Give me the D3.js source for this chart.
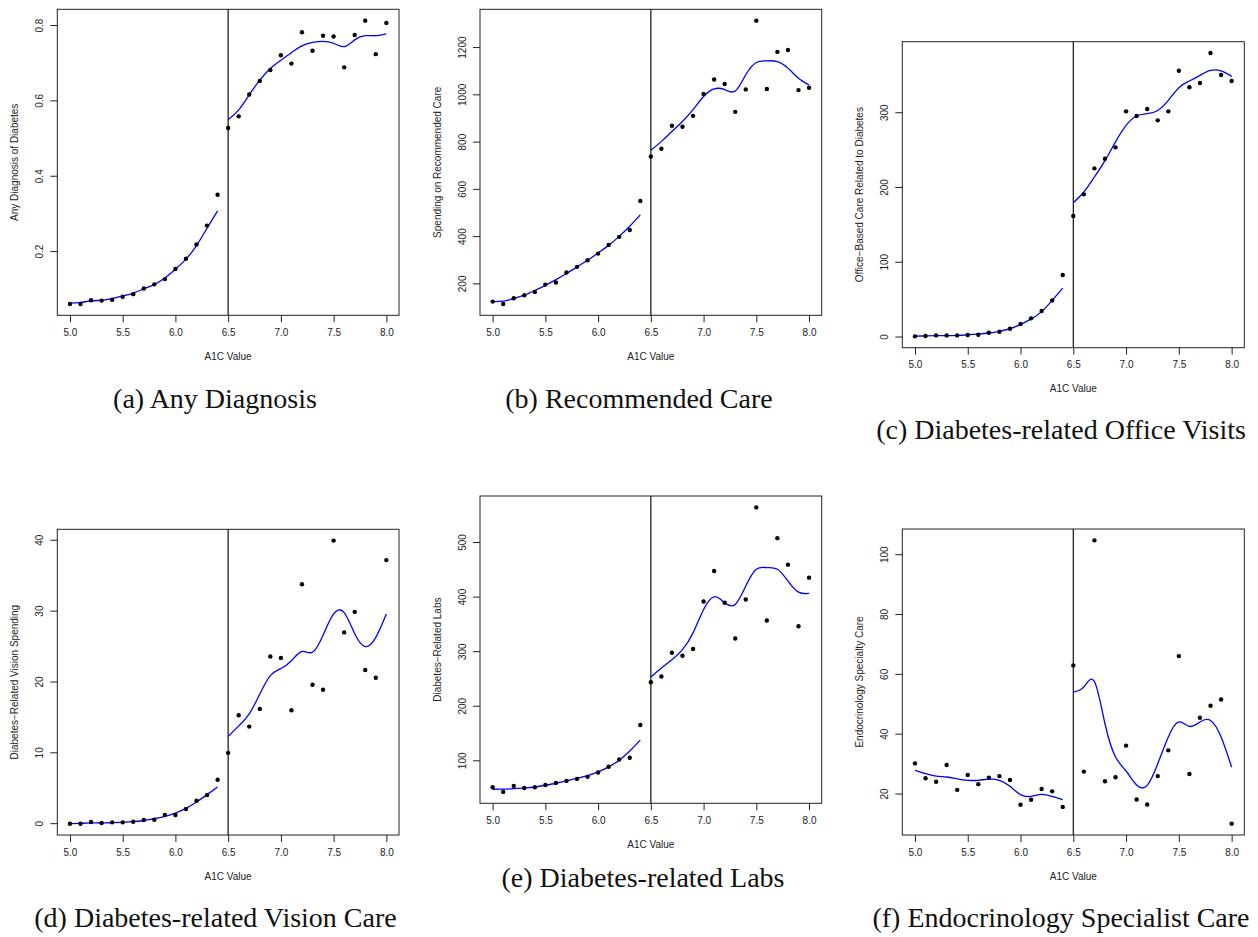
<!DOCTYPE html>
<html>
<head>
<meta charset="utf-8">
<script src="https://cdn.jsdelivr.net/npm/d3@7"></script>
<style>
  html, body { margin: 0; padding: 0; background: #fff; }
  svg { display: block; }
</style>
</head>
<body>
<svg id="chart" width="1258" height="937"></svg>
<script>
// ---------- data ----------
const a1c = [5.0,5.1,5.2,5.3,5.4,5.5,5.6,5.7,5.8,5.9,6.0,6.1,6.2,6.3,6.4,
             6.5,6.6,6.7,6.8,6.9,7.0,7.1,7.2,7.3,7.4,7.5,7.6,7.7,7.8,7.9,8.0];
const fitXLeft  = [5.0,5.1,5.2,5.3,5.4,5.5,5.6,5.7,5.8,5.9,6.0,6.1,6.2,6.3,6.4];
const fitXRight = [6.5,6.6,6.7,6.8,6.9,7.0,7.1,7.2,7.3,7.4,7.5,7.6,7.7,7.8,7.9,8.0];
const xTicks = [5.0,5.5,6.0,6.5,7.0,7.5,8.0];
const cutoff = 6.5;

// (a) Any Diagnosis
const anyDiagnosis = [0.061,0.061,0.071,0.070,0.072,0.080,0.087,0.102,0.113,0.127,0.154,0.181,0.219,0.269,0.351,
                      0.528,0.559,0.617,0.653,0.682,0.721,0.699,0.782,0.733,0.773,0.771,0.689,0.775,0.813,0.724,0.807];
const anyDiagnosisFitL = [0.063,0.065,0.069,0.071,0.075,0.082,0.090,0.101,0.113,0.130,0.153,0.180,0.216,0.262,0.308];
const anyDiagnosisFitR = [0.550,0.576,0.616,0.655,0.686,0.708,0.728,0.746,0.755,0.758,0.753,0.744,0.762,0.773,0.773,0.778];
const anyDiagnosisTicks = [0.2,0.4,0.6,0.8];

// (b) Recommended Care
const recCare = [125,115,139,152,166,197,206,248,272,300,328,365,399,428,551,
                 739,772,869,865,911,1004,1065,1046,928,1023,1314,1025,1182,1190,1020,1030];
const recCareFitL = [125,127,138,152,172,194,218,244,272,300,331,363,401,444,492];
const recCareFitR = [765,803,845,887,937,993,1025,1022,1016,1085,1137,1144,1141,1113,1070,1042];
const recCareTicks = [200,400,600,800,1000,1200];

// (c) Office visits
const office = [0.9,1.3,2.2,2.2,2.2,2.7,3.1,5.8,7.1,11.1,17.4,25,34.8,49,82.9,
                161.8,190.8,225.6,238.5,253.7,301.8,295.6,305,289.8,301.8,356.2,334,339.7,379.8,350.4,342.4];
const officeFitL = [1.3,1.5,1.8,1.9,2.2,3.0,4.0,5.4,7.6,11.1,17,24,34,49,65.5];
const officeFitR = [179.7,194,214,236,261,283,295.6,298.7,303,316.5,333.5,342.4,350,356.7,355.8,348.6];
const officeTicks = [0,100,200,300];

// (d) Vision care
const vision = [0,0,0.24,0.1,0.19,0.19,0.28,0.52,0.56,1.22,1.22,2.07,3.24,4.04,6.2,
                10.0,15.3,13.7,16.2,23.6,23.4,16.0,33.8,19.6,18.9,39.95,27.0,29.9,21.7,20.6,37.2];
const visionFitL = [0.0,0.05,0.1,0.1,0.14,0.19,0.28,0.45,0.7,1.03,1.5,2.16,3.06,4.1,5.17];
const visionFitR = [12.3,13.8,15.5,18.3,20.9,21.9,23.0,24.3,24.2,26.6,29.6,29.8,26.8,25.0,26.3,29.6];
const visionTicks = [0,10,20,30,40];

// (e) Labs
const labs = [51.5,43,54,50.3,51.5,55.8,59.5,63.2,66.9,70.6,78.5,89,102.5,105.5,165.6,
              244,254.6,298,292.6,305,392,447.9,389.6,324,395.7,564.4,357,508,459.5,346.6,435.6];
const labsFitL = [47.9,48.2,49,50.3,52,55.2,58.9,63.2,68,73,79.8,89,101.2,118,138];
const labsFitR = [253.4,270,285.3,303.7,334.4,377.3,400.6,389.6,386.5,420.2,450.9,454,450.9,429.4,409.2,406.7];
const labsTicks = [100,200,300,400,500];

// (f) Endocrinology
const endo = [30.25,25.3,24.1,29.7,21.4,26.4,23.3,25.5,26.0,24.7,16.4,18.1,21.7,20.9,15.7,
              63.0,27.5,104.8,24.3,25.6,36.2,18.2,16.5,26.0,34.6,66.1,26.7,45.5,49.5,51.6,10.1];
const endoFitL = [27.9,26.8,26.0,25.7,25.1,24.6,24.6,25.0,24.6,22.6,19.8,19.2,19.9,19.2,18.1];
const endoFitR = [54.1,55.8,57.6,43.5,32.4,27.7,23.0,22.9,30.1,39.1,44.1,42.6,44.1,44.6,39.1,29.0];
const endoTicks = [20,40,60,80,100];

// ---------- panels ----------
const panels = [
  {y: anyDiagnosis, fl: anyDiagnosisFitL, fr: anyDiagnosisFitR, ticks: anyDiagnosisTicks, fmt: d3.format(".1f"),
   ylab: "Any Diagnosis of Diabetes", cap: "(a) Any Diagnosis",
   box: [57.3, 399, 9.3, 315.3], capX: 215, capY: 408},
  {y: recCare, fl: recCareFitL, fr: recCareFitR, ticks: recCareTicks, fmt: d3.format("d"),
   ylab: "Spending on Recommended Care", cap: "(b) Recommended Care",
   box: [480, 821.7, 9.3, 315.3], capX: 639, capY: 408},
  {y: office, fl: officeFitL, fr: officeFitR, ticks: officeTicks, fmt: d3.format("d"),
   ylab: "Office\u2212Based Care Related to Diabetes", cap: "(c) Diabetes-related Office Visits",
   box: [902.3, 1244.3, 41.7, 347.7], capX: 1061, capY: 439},
  {y: vision, fl: visionFitL, fr: visionFitR, ticks: visionTicks, fmt: d3.format("d"),
   ylab: "Diabetes\u2212Related Vision Spending", cap: "(d) Diabetes-related Vision Care",
   box: [57.3, 399, 529.3, 835], capX: 215.5, capY: 927},
  {y: labs, fl: labsFitL, fr: labsFitR, ticks: labsTicks, fmt: d3.format("d"),
   ylab: "Diabetes\u2212Related Labs", cap: "(e) Diabetes-related Labs",
   box: [480, 821.7, 496, 803.3], capX: 643, capY: 887},
  {y: endo, fl: endoFitL, fr: endoFitR, ticks: endoTicks, fmt: d3.format("d"),
   ylab: "Endocrinology Specialty Care", cap: "(f) Endocrinology Specialist Care",
   box: [902.3, 1244.3, 529, 835], capX: 1061, capY: 927}
];

const svg = d3.select("#chart");
const sans = "'Liberation Sans', Arial, Helvetica, sans-serif";
const serif = "'Liberation Serif', 'Times New Roman', serif";

function rExtend(ext) {
  const r = ext[1] - ext[0];
  return [ext[0] - 0.04 * r, ext[1] + 0.04 * r];
}

panels.forEach(p => {
  const [L, R, T, B] = p.box;
  const x = d3.scaleLinear().domain(rExtend([5.0, 8.0])).range([L, R]);
  const y = d3.scaleLinear().domain(rExtend(d3.extent(p.y))).range([B, T]);
  const g = svg.append("g");

  // axes
  const xAxis = d3.axisBottom(x).tickValues(xTicks).tickFormat(d3.format(".1f")).tickSize(7).tickPadding(4);
  const gx = g.append("g").attr("transform", `translate(0,${B})`).call(xAxis);
  const yAxis = d3.axisLeft(y).tickValues(p.ticks).tickFormat(p.fmt).tickSize(7).tickPadding(0);
  const gy = g.append("g").attr("transform", `translate(${L},0)`).call(yAxis);
  [gx, gy].forEach(a => {
    a.select(".domain").remove();
    a.selectAll("line").attr("stroke", "#222").attr("stroke-width", 1);
    a.selectAll("text").attr("font-family", sans).attr("font-size", 10).attr("fill", "#222");
  });
  gx.selectAll("text").attr("dy", null).attr("y", 18).attr("dominant-baseline", "middle");
  gy.selectAll("text")
    .attr("x", null).attr("dy", null)
    .attr("text-anchor", "middle").attr("dominant-baseline", "middle")
    .attr("transform", d => `translate(${-17},${y(d) - y(d)}) rotate(-90)`)
    .each(function(d) {
      d3.select(this).attr("transform", `translate(${-17},${y(d)}) rotate(-90)`).attr("y", null);
    });
  gy.selectAll(".tick").attr("transform", null);
  gy.selectAll(".tick line").attr("transform", d => `translate(0,${y(d)})`);

  // frame
  g.append("rect").attr("x", L).attr("y", T).attr("width", R - L).attr("height", B - T)
    .attr("fill", "none").attr("stroke", "#222").attr("stroke-width", 1);

  // cutoff line
  g.append("line").attr("x1", x(cutoff)).attr("x2", x(cutoff)).attr("y1", T).attr("y2", B)
    .attr("stroke", "#111").attr("stroke-width", 1.2);

  // fitted lines
  const line = d3.line().x(d => x(d[0])).y(d => y(d[1])).curve(d3.curveNatural);
  g.append("path").attr("d", line(fitXLeft.map((v, i) => [v, p.fl[i]])))
    .attr("fill", "none").attr("stroke", "#0000ff").attr("stroke-width", 1.3);
  g.append("path").attr("d", line(fitXRight.map((v, i) => [v, p.fr[i]])))
    .attr("fill", "none").attr("stroke", "#0000ff").attr("stroke-width", 1.3);

  // points
  g.selectAll("circle.pt").data(a1c.map((v, i) => [v, p.y[i]])).enter().append("circle")
    .attr("class", "pt").attr("cx", d => x(d[0])).attr("cy", d => y(d[1])).attr("r", 2.2)
    .attr("fill", "#000");

  // axis titles
  g.append("text").attr("x", (L + R) / 2).attr("y", B + 42)
    .attr("text-anchor", "middle").attr("dominant-baseline", "middle")
    .attr("font-family", sans).attr("font-size", 10).attr("fill", "#222").text("A1C Value");
  g.append("text").attr("transform", `translate(${L - 42},${(T + B) / 2}) rotate(-90)`)
    .attr("text-anchor", "middle").attr("dominant-baseline", "middle")
    .attr("font-family", sans).attr("font-size", 10).attr("fill", "#222").text(p.ylab);

  // caption
  svg.append("text").attr("x", p.capX).attr("y", p.capY).attr("text-anchor", "middle")
    .attr("font-family", serif).attr("font-size", 28).attr("fill", "#111").text(p.cap);
});
</script>
</body>
</html>
